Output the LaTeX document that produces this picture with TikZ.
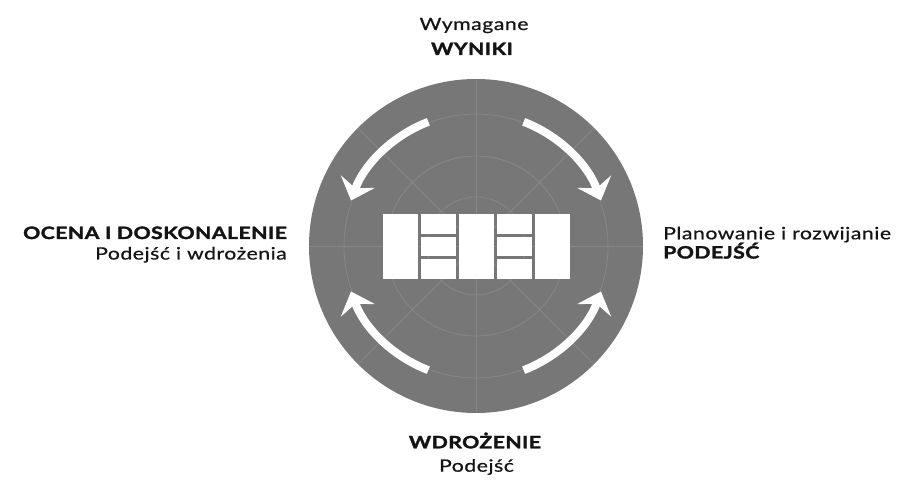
\documentclass[tikz,border=0pt]{standalone}
\usepackage{fontspec}
\setmainfont{Lato}
\newfontfamily\labfont[FakeStretch=1.25, LetterSpace=3, FakeBold=0.6]{Lato}
\newfontfamily\labbold[FakeStretch=1.25, LetterSpace=2.5, BoldFeatures={FakeBold=2}]{Lato}
\usetikzlibrary{arrows.meta}
\definecolor{disc}{HTML}{777777}
\definecolor{gridc}{HTML}{878787}
\definecolor{ink}{HTML}{141414}
\begin{document}
\begin{tikzpicture}[x=1pt,y=1pt,
  lbl/.style={inner sep=0pt, text=ink, font=\fontsize{17}{20}\labfont},
  lblb/.style={inner sep=0pt, text=ink, font=\fontsize{17}{20}\labbold\bfseries},
  cyc/.style={draw=white, line width=8pt, -{Stealth[length=20pt,width=36pt,inset=7pt]}},
  tile/.style={fill=white, draw=none},
  gridl/.style={draw=gridc, line width=0.8pt}]
\useasboundingbox (0,0) rectangle (900,484);
\fill[white] (0,0) rectangle (900,484);
\coordinate (C) at (476,238);
\fill[disc] (C) circle (167);
\foreach \r in {49,90,132} \draw[gridl] (C) circle (\r);
\foreach \a in {0,45,...,315} \draw[gridl] (C) -- ++(\a:166.5);
% tiles
\fill[tile] (382.5,205) rectangle ++(35,65);
\fill[tile] (420.5,250.3) rectangle ++(35,19.7);
\fill[tile] (420.5,227.7) rectangle ++(35,19.6);
\fill[tile] (420.5,205) rectangle ++(35,19.7);
\fill[tile] (458.5,205) rectangle ++(35,65);
\fill[tile] (496.5,250.3) rectangle ++(35,19.7);
\fill[tile] (496.5,227.7) rectangle ++(35,19.6);
\fill[tile] (496.5,205) rectangle ++(35,19.7);
\fill[tile] (534.5,205) rectangle ++(35,65);
% cycle arrows
\draw[cyc] ([shift=(111:133)]C) arc[start angle=111, end angle=160, radius=133];
\draw[cyc] ([shift=(69:133)]C) arc[start angle=69, end angle=20, radius=133];
\draw[cyc] ([shift=(249:133)]C) arc[start angle=249, end angle=200, radius=133];
\draw[cyc] ([shift=(291:133)]C) arc[start angle=291, end angle=340, radius=133];
% labels
\node[lbl, anchor=base] (wym) at (474,454) {Wymagane};
\node[lblb, anchor=base] (wyn) at (472,429) {WYNIKI};
\node[lblb, anchor=base east] (oce) at (287,245) {OCENA I DOSKONALENIE};
\node[lbl, anchor=base east] (pw) at (287,224.5) {Podejść i wdrożenia};
\node[lbl, anchor=base west] (plan) at (663,244.7) {Planowanie i rozwijanie};
\node[lblb, anchor=base west] (pod) at (663,225.5) {PODEJŚĆ};
\node[lblb, anchor=base] (wdr) at (475,35.7) {WDROŻENIE};
\node[lbl, anchor=base] (pod2) at (476.5,12.3) {Podejść};
\end{tikzpicture}
\end{document}
